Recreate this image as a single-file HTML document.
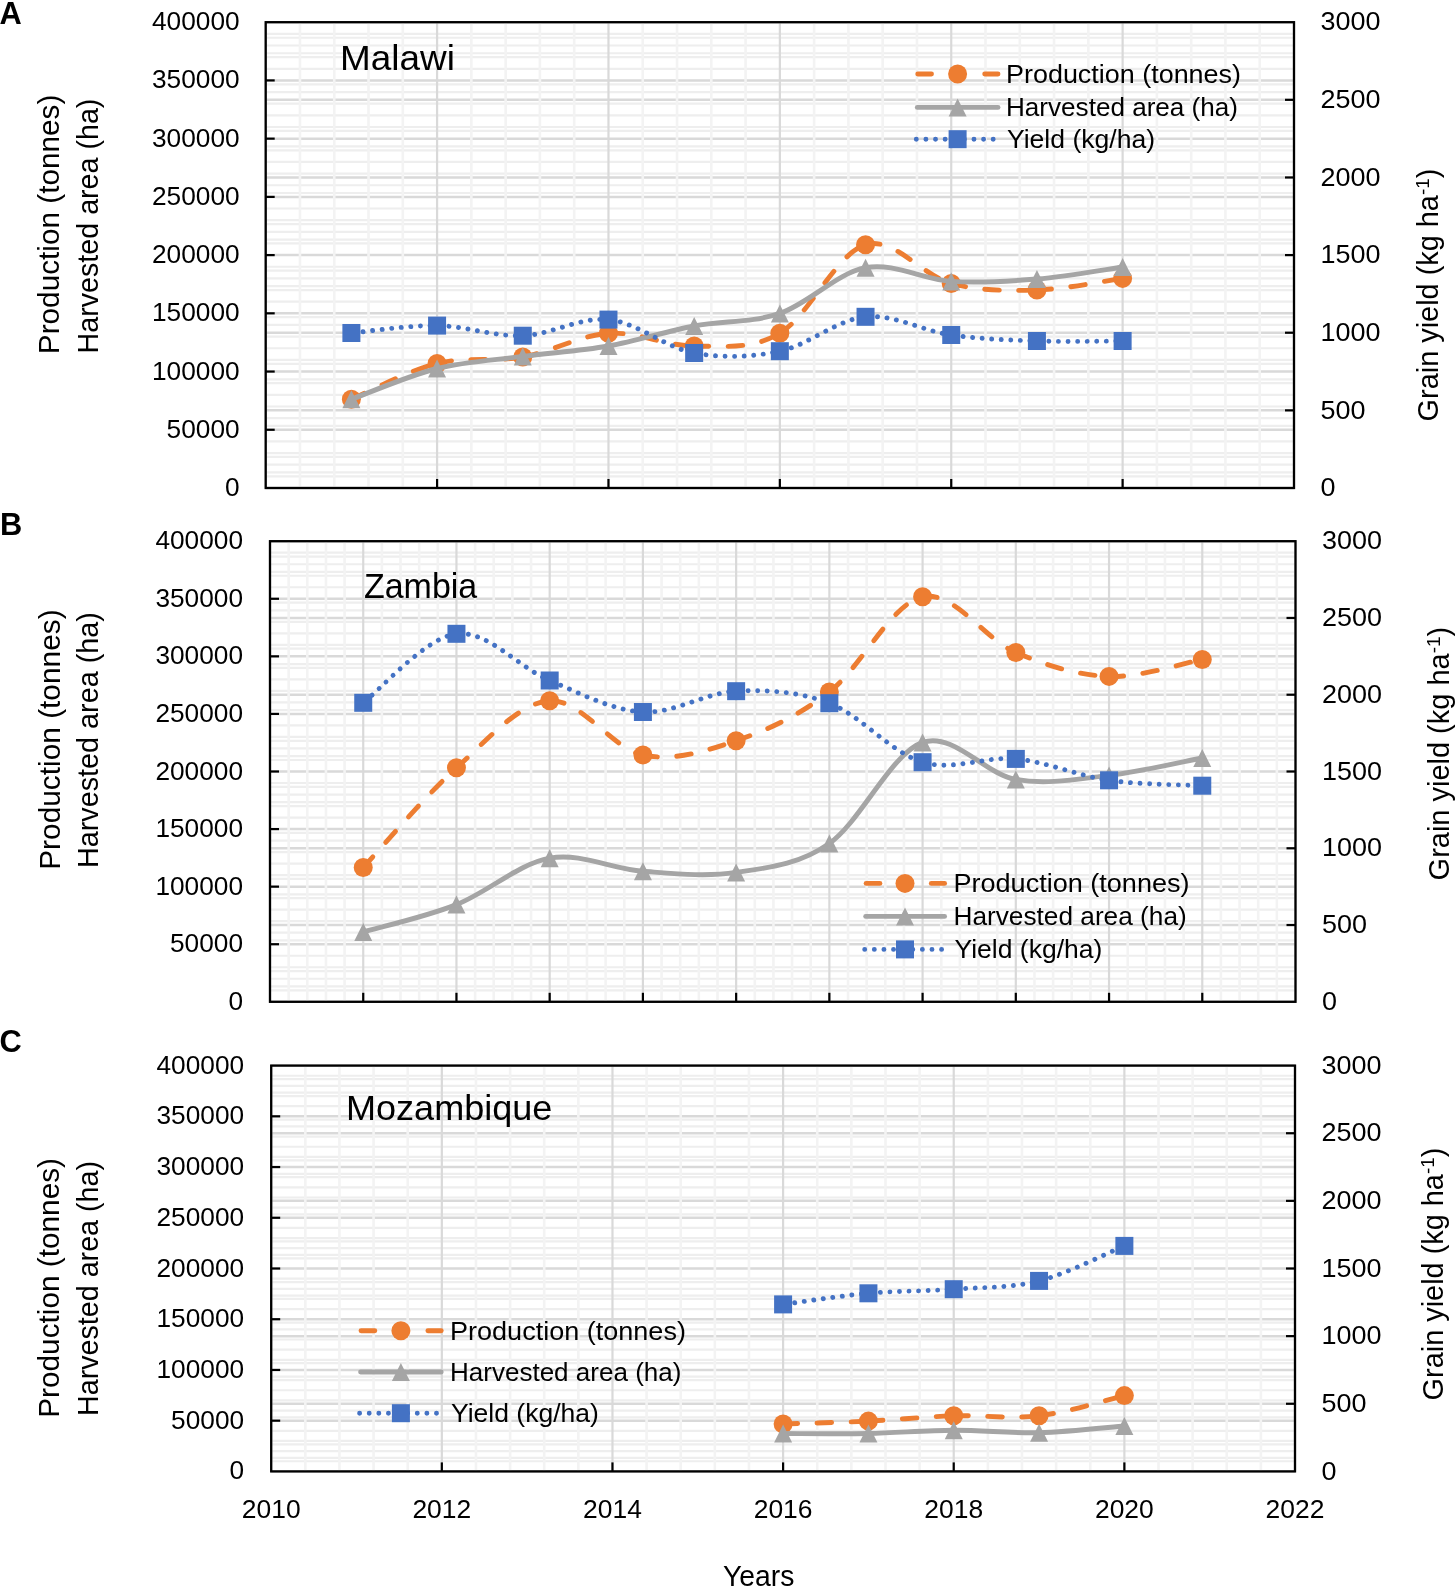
<!DOCTYPE html>
<html><head><meta charset="utf-8"><style>
html,body{margin:0;padding:0;background:#fff;}
svg{display:block;will-change:transform;}
text{font-family:'Liberation Sans', sans-serif;fill:#000;}
</style></head><body>
<svg width="1455" height="1587" viewBox="0 0 1455 1587">
<rect width="1455" height="1587" fill="#fff"/>
<line x1="265.7" y1="33.84" x2="1294" y2="33.84" stroke="#eeeeee" stroke-width="2.2"/>
<line x1="265.7" y1="37.73" x2="1294" y2="37.73" stroke="#eeeeee" stroke-width="2.2"/>
<line x1="265.7" y1="45.49" x2="1294" y2="45.49" stroke="#eeeeee" stroke-width="2.2"/>
<line x1="265.7" y1="53.25" x2="1294" y2="53.25" stroke="#eeeeee" stroke-width="2.2"/>
<line x1="265.7" y1="57.14" x2="1294" y2="57.14" stroke="#eeeeee" stroke-width="2.2"/>
<line x1="265.7" y1="68.78" x2="1294" y2="68.78" stroke="#eeeeee" stroke-width="2.2"/>
<line x1="265.7" y1="84.31" x2="1294" y2="84.31" stroke="#eeeeee" stroke-width="2.2"/>
<line x1="265.7" y1="92.07" x2="1294" y2="92.07" stroke="#eeeeee" stroke-width="2.2"/>
<line x1="265.7" y1="103.72" x2="1294" y2="103.72" stroke="#eeeeee" stroke-width="2.2"/>
<line x1="265.7" y1="115.36" x2="1294" y2="115.36" stroke="#eeeeee" stroke-width="2.2"/>
<line x1="265.7" y1="127" x2="1294" y2="127" stroke="#eeeeee" stroke-width="2.2"/>
<line x1="265.7" y1="130.89" x2="1294" y2="130.89" stroke="#eeeeee" stroke-width="2.2"/>
<line x1="265.7" y1="146.41" x2="1294" y2="146.41" stroke="#eeeeee" stroke-width="2.2"/>
<line x1="265.7" y1="150.29" x2="1294" y2="150.29" stroke="#eeeeee" stroke-width="2.2"/>
<line x1="265.7" y1="161.94" x2="1294" y2="161.94" stroke="#eeeeee" stroke-width="2.2"/>
<line x1="265.7" y1="173.59" x2="1294" y2="173.59" stroke="#eeeeee" stroke-width="2.2"/>
<line x1="265.7" y1="185.23" x2="1294" y2="185.23" stroke="#eeeeee" stroke-width="2.2"/>
<line x1="265.7" y1="192.99" x2="1294" y2="192.99" stroke="#eeeeee" stroke-width="2.2"/>
<line x1="265.7" y1="208.52" x2="1294" y2="208.52" stroke="#eeeeee" stroke-width="2.2"/>
<line x1="265.7" y1="220.16" x2="1294" y2="220.16" stroke="#eeeeee" stroke-width="2.2"/>
<line x1="265.7" y1="224.05" x2="1294" y2="224.05" stroke="#eeeeee" stroke-width="2.2"/>
<line x1="265.7" y1="231.81" x2="1294" y2="231.81" stroke="#eeeeee" stroke-width="2.2"/>
<line x1="265.7" y1="239.57" x2="1294" y2="239.57" stroke="#eeeeee" stroke-width="2.2"/>
<line x1="265.7" y1="243.46" x2="1294" y2="243.46" stroke="#eeeeee" stroke-width="2.2"/>
<line x1="265.7" y1="266.75" x2="1294" y2="266.75" stroke="#eeeeee" stroke-width="2.2"/>
<line x1="265.7" y1="270.63" x2="1294" y2="270.63" stroke="#eeeeee" stroke-width="2.2"/>
<line x1="265.7" y1="278.39" x2="1294" y2="278.39" stroke="#eeeeee" stroke-width="2.2"/>
<line x1="265.7" y1="286.15" x2="1294" y2="286.15" stroke="#eeeeee" stroke-width="2.2"/>
<line x1="265.7" y1="290.03" x2="1294" y2="290.03" stroke="#eeeeee" stroke-width="2.2"/>
<line x1="265.7" y1="301.68" x2="1294" y2="301.68" stroke="#eeeeee" stroke-width="2.2"/>
<line x1="265.7" y1="317.21" x2="1294" y2="317.21" stroke="#eeeeee" stroke-width="2.2"/>
<line x1="265.7" y1="324.97" x2="1294" y2="324.97" stroke="#eeeeee" stroke-width="2.2"/>
<line x1="265.7" y1="336.62" x2="1294" y2="336.62" stroke="#eeeeee" stroke-width="2.2"/>
<line x1="265.7" y1="348.26" x2="1294" y2="348.26" stroke="#eeeeee" stroke-width="2.2"/>
<line x1="265.7" y1="359.91" x2="1294" y2="359.91" stroke="#eeeeee" stroke-width="2.2"/>
<line x1="265.7" y1="363.79" x2="1294" y2="363.79" stroke="#eeeeee" stroke-width="2.2"/>
<line x1="265.7" y1="379.31" x2="1294" y2="379.31" stroke="#eeeeee" stroke-width="2.2"/>
<line x1="265.7" y1="383.19" x2="1294" y2="383.19" stroke="#eeeeee" stroke-width="2.2"/>
<line x1="265.7" y1="394.84" x2="1294" y2="394.84" stroke="#eeeeee" stroke-width="2.2"/>
<line x1="265.7" y1="406.48" x2="1294" y2="406.48" stroke="#eeeeee" stroke-width="2.2"/>
<line x1="265.7" y1="418.13" x2="1294" y2="418.13" stroke="#eeeeee" stroke-width="2.2"/>
<line x1="265.7" y1="425.89" x2="1294" y2="425.89" stroke="#eeeeee" stroke-width="2.2"/>
<line x1="265.7" y1="441.42" x2="1294" y2="441.42" stroke="#eeeeee" stroke-width="2.2"/>
<line x1="265.7" y1="453.07" x2="1294" y2="453.07" stroke="#eeeeee" stroke-width="2.2"/>
<line x1="265.7" y1="456.95" x2="1294" y2="456.95" stroke="#eeeeee" stroke-width="2.2"/>
<line x1="265.7" y1="464.71" x2="1294" y2="464.71" stroke="#eeeeee" stroke-width="2.2"/>
<line x1="265.7" y1="472.47" x2="1294" y2="472.47" stroke="#eeeeee" stroke-width="2.2"/>
<line x1="265.7" y1="476.36" x2="1294" y2="476.36" stroke="#eeeeee" stroke-width="2.2"/>
<line x1="265.7" y1="22.2" x2="1294" y2="22.2" stroke="#d9d9d9" stroke-width="2.5"/>
<line x1="265.7" y1="80.42" x2="1294" y2="80.42" stroke="#d9d9d9" stroke-width="2.5"/>
<line x1="265.7" y1="99.83" x2="1294" y2="99.83" stroke="#d9d9d9" stroke-width="2.5"/>
<line x1="265.7" y1="138.65" x2="1294" y2="138.65" stroke="#d9d9d9" stroke-width="2.5"/>
<line x1="265.7" y1="177.47" x2="1294" y2="177.47" stroke="#d9d9d9" stroke-width="2.5"/>
<line x1="265.7" y1="196.88" x2="1294" y2="196.88" stroke="#d9d9d9" stroke-width="2.5"/>
<line x1="265.7" y1="255.1" x2="1294" y2="255.1" stroke="#d9d9d9" stroke-width="2.5"/>
<line x1="265.7" y1="313.32" x2="1294" y2="313.32" stroke="#d9d9d9" stroke-width="2.5"/>
<line x1="265.7" y1="332.73" x2="1294" y2="332.73" stroke="#d9d9d9" stroke-width="2.5"/>
<line x1="265.7" y1="371.55" x2="1294" y2="371.55" stroke="#d9d9d9" stroke-width="2.5"/>
<line x1="265.7" y1="410.37" x2="1294" y2="410.37" stroke="#d9d9d9" stroke-width="2.5"/>
<line x1="265.7" y1="429.77" x2="1294" y2="429.77" stroke="#d9d9d9" stroke-width="2.5"/>
<line x1="265.7" y1="488" x2="1294" y2="488" stroke="#d9d9d9" stroke-width="2.5"/>
<line x1="299.98" y1="22.2" x2="299.98" y2="488" stroke="#f3f3f3" stroke-width="2.6"/>
<line x1="334.25" y1="22.2" x2="334.25" y2="488" stroke="#f3f3f3" stroke-width="2.6"/>
<line x1="368.53" y1="22.2" x2="368.53" y2="488" stroke="#f3f3f3" stroke-width="2.6"/>
<line x1="402.81" y1="22.2" x2="402.81" y2="488" stroke="#f3f3f3" stroke-width="2.6"/>
<line x1="471.36" y1="22.2" x2="471.36" y2="488" stroke="#f3f3f3" stroke-width="2.6"/>
<line x1="505.64" y1="22.2" x2="505.64" y2="488" stroke="#f3f3f3" stroke-width="2.6"/>
<line x1="539.91" y1="22.2" x2="539.91" y2="488" stroke="#f3f3f3" stroke-width="2.6"/>
<line x1="574.19" y1="22.2" x2="574.19" y2="488" stroke="#f3f3f3" stroke-width="2.6"/>
<line x1="642.74" y1="22.2" x2="642.74" y2="488" stroke="#f3f3f3" stroke-width="2.6"/>
<line x1="677.02" y1="22.2" x2="677.02" y2="488" stroke="#f3f3f3" stroke-width="2.6"/>
<line x1="711.3" y1="22.2" x2="711.3" y2="488" stroke="#f3f3f3" stroke-width="2.6"/>
<line x1="745.57" y1="22.2" x2="745.57" y2="488" stroke="#f3f3f3" stroke-width="2.6"/>
<line x1="814.13" y1="22.2" x2="814.13" y2="488" stroke="#f3f3f3" stroke-width="2.6"/>
<line x1="848.4" y1="22.2" x2="848.4" y2="488" stroke="#f3f3f3" stroke-width="2.6"/>
<line x1="882.68" y1="22.2" x2="882.68" y2="488" stroke="#f3f3f3" stroke-width="2.6"/>
<line x1="916.96" y1="22.2" x2="916.96" y2="488" stroke="#f3f3f3" stroke-width="2.6"/>
<line x1="985.51" y1="22.2" x2="985.51" y2="488" stroke="#f3f3f3" stroke-width="2.6"/>
<line x1="1019.79" y1="22.2" x2="1019.79" y2="488" stroke="#f3f3f3" stroke-width="2.6"/>
<line x1="1054.06" y1="22.2" x2="1054.06" y2="488" stroke="#f3f3f3" stroke-width="2.6"/>
<line x1="1088.34" y1="22.2" x2="1088.34" y2="488" stroke="#f3f3f3" stroke-width="2.6"/>
<line x1="1156.89" y1="22.2" x2="1156.89" y2="488" stroke="#f3f3f3" stroke-width="2.6"/>
<line x1="1191.17" y1="22.2" x2="1191.17" y2="488" stroke="#f3f3f3" stroke-width="2.6"/>
<line x1="1225.45" y1="22.2" x2="1225.45" y2="488" stroke="#f3f3f3" stroke-width="2.6"/>
<line x1="1259.72" y1="22.2" x2="1259.72" y2="488" stroke="#f3f3f3" stroke-width="2.6"/>
<line x1="265.7" y1="22.2" x2="265.7" y2="488" stroke="#d9d9d9" stroke-width="2.2"/>
<line x1="437.08" y1="22.2" x2="437.08" y2="488" stroke="#d9d9d9" stroke-width="2.2"/>
<line x1="608.47" y1="22.2" x2="608.47" y2="488" stroke="#d9d9d9" stroke-width="2.2"/>
<line x1="779.85" y1="22.2" x2="779.85" y2="488" stroke="#d9d9d9" stroke-width="2.2"/>
<line x1="951.23" y1="22.2" x2="951.23" y2="488" stroke="#d9d9d9" stroke-width="2.2"/>
<line x1="1122.62" y1="22.2" x2="1122.62" y2="488" stroke="#d9d9d9" stroke-width="2.2"/>
<line x1="1294" y1="22.2" x2="1294" y2="488" stroke="#d9d9d9" stroke-width="2.2"/>
<line x1="265.7" y1="80.42" x2="274.7" y2="80.42" stroke="#000" stroke-width="2.2"/>
<line x1="265.7" y1="138.65" x2="274.7" y2="138.65" stroke="#000" stroke-width="2.2"/>
<line x1="265.7" y1="196.88" x2="274.7" y2="196.88" stroke="#000" stroke-width="2.2"/>
<line x1="265.7" y1="255.1" x2="274.7" y2="255.1" stroke="#000" stroke-width="2.2"/>
<line x1="265.7" y1="313.32" x2="274.7" y2="313.32" stroke="#000" stroke-width="2.2"/>
<line x1="265.7" y1="371.55" x2="274.7" y2="371.55" stroke="#000" stroke-width="2.2"/>
<line x1="265.7" y1="429.77" x2="274.7" y2="429.77" stroke="#000" stroke-width="2.2"/>
<line x1="1285" y1="99.83" x2="1294" y2="99.83" stroke="#000" stroke-width="2.2"/>
<line x1="1285" y1="177.47" x2="1294" y2="177.47" stroke="#000" stroke-width="2.2"/>
<line x1="1285" y1="255.1" x2="1294" y2="255.1" stroke="#000" stroke-width="2.2"/>
<line x1="1285" y1="332.73" x2="1294" y2="332.73" stroke="#000" stroke-width="2.2"/>
<line x1="1285" y1="410.37" x2="1294" y2="410.37" stroke="#000" stroke-width="2.2"/>
<line x1="437.08" y1="479" x2="437.08" y2="488" stroke="#000" stroke-width="2.2"/>
<line x1="608.47" y1="479" x2="608.47" y2="488" stroke="#000" stroke-width="2.2"/>
<line x1="779.85" y1="479" x2="779.85" y2="488" stroke="#000" stroke-width="2.2"/>
<line x1="951.23" y1="479" x2="951.23" y2="488" stroke="#000" stroke-width="2.2"/>
<line x1="1122.62" y1="479" x2="1122.62" y2="488" stroke="#000" stroke-width="2.2"/>
<rect x="265.7" y="22.2" width="1028.3" height="465.8" fill="none" stroke="#000" stroke-width="2.3"/>
<path d="M351.39,399.3 C365.67,393.33 408.52,370.55 437.08,363.5" fill="none" stroke="#ED7D31" stroke-width="4.9" stroke-dasharray="14.6 19.4" stroke-linecap="round"/>
<path d="M437.08,363.5 C465.65,356.45 494.21,362.03 522.77,357" fill="none" stroke="#ED7D31" stroke-width="4.9" stroke-dasharray="14.6 19.4" stroke-linecap="round"/>
<path d="M522.77,357 C551.34,351.97 579.9,335.13 608.47,333.3" fill="none" stroke="#ED7D31" stroke-width="4.9" stroke-dasharray="14.6 19.4" stroke-linecap="round"/>
<path d="M608.47,333.3 C637.03,331.47 665.59,346 694.16,346" fill="none" stroke="#ED7D31" stroke-width="4.9" stroke-dasharray="14.6 19.4" stroke-linecap="round"/>
<path d="M694.16,346 C722.72,346 751.29,350.18 779.85,333.3" fill="none" stroke="#ED7D31" stroke-width="4.9" stroke-dasharray="14.6 19.4" stroke-linecap="round"/>
<path d="M779.85,333.3 C808.41,316.42 836.98,253 865.54,244.7" fill="none" stroke="#ED7D31" stroke-width="4.9" stroke-dasharray="14.6 19.4" stroke-linecap="round"/>
<path d="M865.54,244.7 C894.11,236.4 922.67,275.95 951.23,283.5" fill="none" stroke="#ED7D31" stroke-width="4.9" stroke-dasharray="14.6 19.4" stroke-linecap="round"/>
<path d="M951.23,283.5 C979.8,291.05 1008.36,290.85 1036.92,290" fill="none" stroke="#ED7D31" stroke-width="4.9" stroke-dasharray="14.6 19.4" stroke-linecap="round"/>
<path d="M1036.92,290 C1065.49,289.15 1108.33,280.33 1122.62,278.4" fill="none" stroke="#ED7D31" stroke-width="4.9" stroke-dasharray="14.6 19.4" stroke-linecap="round"/>
<circle cx="351.39" cy="399.3" r="9.5" fill="#ED7D31"/>
<circle cx="437.08" cy="363.5" r="9.5" fill="#ED7D31"/>
<circle cx="522.77" cy="357" r="9.5" fill="#ED7D31"/>
<circle cx="608.47" cy="333.3" r="9.5" fill="#ED7D31"/>
<circle cx="694.16" cy="346" r="9.5" fill="#ED7D31"/>
<circle cx="779.85" cy="333.3" r="9.5" fill="#ED7D31"/>
<circle cx="865.54" cy="244.7" r="9.5" fill="#ED7D31"/>
<circle cx="951.23" cy="283.5" r="9.5" fill="#ED7D31"/>
<circle cx="1036.92" cy="290" r="9.5" fill="#ED7D31"/>
<circle cx="1122.62" cy="278.4" r="9.5" fill="#ED7D31"/>
<path d="M351.39,399.3 C365.67,394.17 408.52,375.65 437.08,368.5 C465.65,361.35 494.21,360.15 522.77,356.4 C551.34,352.65 579.9,351.07 608.47,346 C637.03,340.93 665.59,331.43 694.16,326 C722.72,320.57 751.29,323.12 779.85,313.4 C808.41,303.68 836.98,273.03 865.54,267.7 C894.11,262.37 922.67,279.52 951.23,281.4 C979.8,283.28 1008.36,281.4 1036.92,279 C1065.49,276.6 1108.33,269 1122.62,267" fill="none" stroke="#A5A5A5" stroke-width="4.9" stroke-linecap="round"/>
<path d="M351.39,390.3 L360.39,408.3 L342.39,408.3 Z" fill="#A5A5A5"/>
<path d="M437.08,359.5 L446.08,377.5 L428.08,377.5 Z" fill="#A5A5A5"/>
<path d="M522.77,347.4 L531.77,365.4 L513.77,365.4 Z" fill="#A5A5A5"/>
<path d="M608.47,337 L617.47,355 L599.47,355 Z" fill="#A5A5A5"/>
<path d="M694.16,317 L703.16,335 L685.16,335 Z" fill="#A5A5A5"/>
<path d="M779.85,304.4 L788.85,322.4 L770.85,322.4 Z" fill="#A5A5A5"/>
<path d="M865.54,258.7 L874.54,276.7 L856.54,276.7 Z" fill="#A5A5A5"/>
<path d="M951.23,272.4 L960.23,290.4 L942.23,290.4 Z" fill="#A5A5A5"/>
<path d="M1036.92,270 L1045.92,288 L1027.92,288 Z" fill="#A5A5A5"/>
<path d="M1122.62,258 L1131.62,276 L1113.62,276 Z" fill="#A5A5A5"/>
<path d="M351.39,333 C365.67,331.77 408.52,325.15 437.08,325.6" fill="none" stroke="#4472C4" stroke-width="4.9" stroke-dasharray="0.01 9.55" stroke-dashoffset="7.15" stroke-linecap="round"/>
<path d="M437.08,325.6 C465.65,326.05 494.21,336.7 522.77,335.7" fill="none" stroke="#4472C4" stroke-width="4.9" stroke-dasharray="0.01 9.55" stroke-dashoffset="7.15" stroke-linecap="round"/>
<path d="M522.77,335.7 C551.34,334.7 579.9,316.72 608.47,319.6" fill="none" stroke="#4472C4" stroke-width="4.9" stroke-dasharray="0.01 9.55" stroke-dashoffset="7.15" stroke-linecap="round"/>
<path d="M608.47,319.6 C637.03,322.48 665.59,347.73 694.16,353" fill="none" stroke="#4472C4" stroke-width="4.9" stroke-dasharray="0.01 9.55" stroke-dashoffset="7.15" stroke-linecap="round"/>
<path d="M694.16,353 C722.72,358.27 751.29,357.23 779.85,351.2" fill="none" stroke="#4472C4" stroke-width="4.9" stroke-dasharray="0.01 9.55" stroke-dashoffset="7.15" stroke-linecap="round"/>
<path d="M779.85,351.2 C808.41,345.17 836.98,319.5 865.54,316.8" fill="none" stroke="#4472C4" stroke-width="4.9" stroke-dasharray="0.01 9.55" stroke-dashoffset="7.15" stroke-linecap="round"/>
<path d="M865.54,316.8 C894.11,314.1 922.67,330.97 951.23,335" fill="none" stroke="#4472C4" stroke-width="4.9" stroke-dasharray="0.01 9.55" stroke-dashoffset="7.15" stroke-linecap="round"/>
<path d="M951.23,335 C979.8,339.03 1008.36,340 1036.92,341" fill="none" stroke="#4472C4" stroke-width="4.9" stroke-dasharray="0.01 9.55" stroke-dashoffset="7.15" stroke-linecap="round"/>
<path d="M1036.92,341 C1065.49,342 1108.33,341 1122.62,341" fill="none" stroke="#4472C4" stroke-width="4.9" stroke-dasharray="0.01 9.55" stroke-dashoffset="7.15" stroke-linecap="round"/>
<rect x="342.39" y="324" width="18" height="18" fill="#4472C4"/>
<rect x="428.08" y="316.6" width="18" height="18" fill="#4472C4"/>
<rect x="513.77" y="326.7" width="18" height="18" fill="#4472C4"/>
<rect x="599.47" y="310.6" width="18" height="18" fill="#4472C4"/>
<rect x="685.16" y="344" width="18" height="18" fill="#4472C4"/>
<rect x="770.85" y="342.2" width="18" height="18" fill="#4472C4"/>
<rect x="856.54" y="307.8" width="18" height="18" fill="#4472C4"/>
<rect x="942.23" y="326" width="18" height="18" fill="#4472C4"/>
<rect x="1027.92" y="332" width="18" height="18" fill="#4472C4"/>
<rect x="1113.62" y="332" width="18" height="18" fill="#4472C4"/>
<text x="239.6" y="30.2" font-size="26.2" text-anchor="end" font-weight="normal" textLength="87.6" lengthAdjust="spacingAndGlyphs">400000</text>
<text x="239.6" y="88.42" font-size="26.2" text-anchor="end" font-weight="normal" textLength="87.6" lengthAdjust="spacingAndGlyphs">350000</text>
<text x="239.6" y="146.65" font-size="26.2" text-anchor="end" font-weight="normal" textLength="87.6" lengthAdjust="spacingAndGlyphs">300000</text>
<text x="239.6" y="204.88" font-size="26.2" text-anchor="end" font-weight="normal" textLength="87.6" lengthAdjust="spacingAndGlyphs">250000</text>
<text x="239.6" y="263.1" font-size="26.2" text-anchor="end" font-weight="normal" textLength="87.6" lengthAdjust="spacingAndGlyphs">200000</text>
<text x="239.6" y="321.32" font-size="26.2" text-anchor="end" font-weight="normal" textLength="87.6" lengthAdjust="spacingAndGlyphs">150000</text>
<text x="239.6" y="379.55" font-size="26.2" text-anchor="end" font-weight="normal" textLength="87.6" lengthAdjust="spacingAndGlyphs">100000</text>
<text x="239.6" y="437.77" font-size="26.2" text-anchor="end" font-weight="normal" textLength="73" lengthAdjust="spacingAndGlyphs">50000</text>
<text x="239.6" y="496" font-size="26.2" text-anchor="end" font-weight="normal" textLength="14.6" lengthAdjust="spacingAndGlyphs">0</text>
<text x="1320.4" y="30.4" font-size="26.2" text-anchor="start" font-weight="normal" textLength="60" lengthAdjust="spacingAndGlyphs">3000</text>
<text x="1320.4" y="108.03" font-size="26.2" text-anchor="start" font-weight="normal" textLength="60" lengthAdjust="spacingAndGlyphs">2500</text>
<text x="1320.4" y="185.67" font-size="26.2" text-anchor="start" font-weight="normal" textLength="60" lengthAdjust="spacingAndGlyphs">2000</text>
<text x="1320.4" y="263.3" font-size="26.2" text-anchor="start" font-weight="normal" textLength="60" lengthAdjust="spacingAndGlyphs">1500</text>
<text x="1320.4" y="340.93" font-size="26.2" text-anchor="start" font-weight="normal" textLength="60" lengthAdjust="spacingAndGlyphs">1000</text>
<text x="1320.4" y="418.57" font-size="26.2" text-anchor="start" font-weight="normal" textLength="45" lengthAdjust="spacingAndGlyphs">500</text>
<text x="1320.4" y="496.2" font-size="26.2" text-anchor="start" font-weight="normal" textLength="15" lengthAdjust="spacingAndGlyphs">0</text>
<text x="340.1" y="69.6" font-size="35.2" text-anchor="start" font-weight="normal" textLength="114.8" lengthAdjust="spacingAndGlyphs">Malawi</text>
<line x1="917.75" y1="74" x2="931.5" y2="74" stroke="#ED7D31" stroke-width="4.9" stroke-linecap="round"/>
<line x1="984.7" y1="74" x2="998" y2="74" stroke="#ED7D31" stroke-width="4.9" stroke-linecap="round"/>
<circle cx="957.6" cy="74" r="9.5" fill="#ED7D31"/>
<text x="1006" y="82.9" font-size="25.9" text-anchor="start" font-weight="normal" textLength="235" lengthAdjust="spacingAndGlyphs">Production (tonnes)</text>
<line x1="917.3" y1="107.4" x2="998" y2="107.4" stroke="#A5A5A5" stroke-width="4.9" stroke-linecap="round"/>
<path d="M957.6,98.4 L966.6,116.4 L948.6,116.4 Z" fill="#A5A5A5"/>
<text x="1006" y="116.3" font-size="25.9" text-anchor="start" font-weight="normal" textLength="232" lengthAdjust="spacingAndGlyphs">Harvested area (ha)</text>
<line x1="916.3" y1="139.2" x2="998" y2="139.2" stroke="#4472C4" stroke-width="4.9" stroke-linecap="round" stroke-dasharray="0.01 9.6"/>
<rect x="948.6" y="130.2" width="18" height="18" fill="#4472C4"/>
<text x="1007" y="148.1" font-size="25.9" text-anchor="start" font-weight="normal" textLength="148" lengthAdjust="spacingAndGlyphs">Yield (kg/ha)</text>
<text transform="translate(59.1,354.2) rotate(-90)" x="0" y="0" font-size="29" textLength="259.6" lengthAdjust="spacingAndGlyphs">Production (tonnes)</text>
<text transform="translate(98.2,353.4) rotate(-90)" x="0" y="0" font-size="29" textLength="254.8" lengthAdjust="spacingAndGlyphs">Harvested area (ha)</text>
<text transform="translate(1437.9,421.4) rotate(-90)" x="0" y="0" font-size="29" textLength="252.8" lengthAdjust="spacingAndGlyphs">Grain yield (kg ha<tspan dy="-9" font-size="19">-1</tspan><tspan dy="9">)</tspan></text>
<text x="-0.5" y="23.9" font-size="30.8" text-anchor="start" font-weight="bold">A</text>
<line x1="270" y1="552.72" x2="1295.5" y2="552.72" stroke="#eeeeee" stroke-width="2.2"/>
<line x1="270" y1="556.55" x2="1295.5" y2="556.55" stroke="#eeeeee" stroke-width="2.2"/>
<line x1="270" y1="564.23" x2="1295.5" y2="564.23" stroke="#eeeeee" stroke-width="2.2"/>
<line x1="270" y1="571.91" x2="1295.5" y2="571.91" stroke="#eeeeee" stroke-width="2.2"/>
<line x1="270" y1="575.75" x2="1295.5" y2="575.75" stroke="#eeeeee" stroke-width="2.2"/>
<line x1="270" y1="587.26" x2="1295.5" y2="587.26" stroke="#eeeeee" stroke-width="2.2"/>
<line x1="270" y1="602.61" x2="1295.5" y2="602.61" stroke="#eeeeee" stroke-width="2.2"/>
<line x1="270" y1="610.29" x2="1295.5" y2="610.29" stroke="#eeeeee" stroke-width="2.2"/>
<line x1="270" y1="621.81" x2="1295.5" y2="621.81" stroke="#eeeeee" stroke-width="2.2"/>
<line x1="270" y1="633.32" x2="1295.5" y2="633.32" stroke="#eeeeee" stroke-width="2.2"/>
<line x1="270" y1="644.84" x2="1295.5" y2="644.84" stroke="#eeeeee" stroke-width="2.2"/>
<line x1="270" y1="648.67" x2="1295.5" y2="648.67" stroke="#eeeeee" stroke-width="2.2"/>
<line x1="270" y1="664.03" x2="1295.5" y2="664.03" stroke="#eeeeee" stroke-width="2.2"/>
<line x1="270" y1="667.87" x2="1295.5" y2="667.87" stroke="#eeeeee" stroke-width="2.2"/>
<line x1="270" y1="679.38" x2="1295.5" y2="679.38" stroke="#eeeeee" stroke-width="2.2"/>
<line x1="270" y1="690.89" x2="1295.5" y2="690.89" stroke="#eeeeee" stroke-width="2.2"/>
<line x1="270" y1="702.41" x2="1295.5" y2="702.41" stroke="#eeeeee" stroke-width="2.2"/>
<line x1="270" y1="710.09" x2="1295.5" y2="710.09" stroke="#eeeeee" stroke-width="2.2"/>
<line x1="270" y1="725.44" x2="1295.5" y2="725.44" stroke="#eeeeee" stroke-width="2.2"/>
<line x1="270" y1="736.96" x2="1295.5" y2="736.96" stroke="#eeeeee" stroke-width="2.2"/>
<line x1="270" y1="740.79" x2="1295.5" y2="740.79" stroke="#eeeeee" stroke-width="2.2"/>
<line x1="270" y1="748.47" x2="1295.5" y2="748.47" stroke="#eeeeee" stroke-width="2.2"/>
<line x1="270" y1="756.15" x2="1295.5" y2="756.15" stroke="#eeeeee" stroke-width="2.2"/>
<line x1="270" y1="759.99" x2="1295.5" y2="759.99" stroke="#eeeeee" stroke-width="2.2"/>
<line x1="270" y1="783.01" x2="1295.5" y2="783.01" stroke="#eeeeee" stroke-width="2.2"/>
<line x1="270" y1="786.85" x2="1295.5" y2="786.85" stroke="#eeeeee" stroke-width="2.2"/>
<line x1="270" y1="794.53" x2="1295.5" y2="794.53" stroke="#eeeeee" stroke-width="2.2"/>
<line x1="270" y1="802.21" x2="1295.5" y2="802.21" stroke="#eeeeee" stroke-width="2.2"/>
<line x1="270" y1="806.04" x2="1295.5" y2="806.04" stroke="#eeeeee" stroke-width="2.2"/>
<line x1="270" y1="817.56" x2="1295.5" y2="817.56" stroke="#eeeeee" stroke-width="2.2"/>
<line x1="270" y1="832.91" x2="1295.5" y2="832.91" stroke="#eeeeee" stroke-width="2.2"/>
<line x1="270" y1="840.59" x2="1295.5" y2="840.59" stroke="#eeeeee" stroke-width="2.2"/>
<line x1="270" y1="852.11" x2="1295.5" y2="852.11" stroke="#eeeeee" stroke-width="2.2"/>
<line x1="270" y1="863.62" x2="1295.5" y2="863.62" stroke="#eeeeee" stroke-width="2.2"/>
<line x1="270" y1="875.13" x2="1295.5" y2="875.13" stroke="#eeeeee" stroke-width="2.2"/>
<line x1="270" y1="878.97" x2="1295.5" y2="878.97" stroke="#eeeeee" stroke-width="2.2"/>
<line x1="270" y1="894.33" x2="1295.5" y2="894.33" stroke="#eeeeee" stroke-width="2.2"/>
<line x1="270" y1="898.16" x2="1295.5" y2="898.16" stroke="#eeeeee" stroke-width="2.2"/>
<line x1="270" y1="909.68" x2="1295.5" y2="909.68" stroke="#eeeeee" stroke-width="2.2"/>
<line x1="270" y1="921.19" x2="1295.5" y2="921.19" stroke="#eeeeee" stroke-width="2.2"/>
<line x1="270" y1="932.71" x2="1295.5" y2="932.71" stroke="#eeeeee" stroke-width="2.2"/>
<line x1="270" y1="940.39" x2="1295.5" y2="940.39" stroke="#eeeeee" stroke-width="2.2"/>
<line x1="270" y1="955.74" x2="1295.5" y2="955.74" stroke="#eeeeee" stroke-width="2.2"/>
<line x1="270" y1="967.25" x2="1295.5" y2="967.25" stroke="#eeeeee" stroke-width="2.2"/>
<line x1="270" y1="971.09" x2="1295.5" y2="971.09" stroke="#eeeeee" stroke-width="2.2"/>
<line x1="270" y1="978.77" x2="1295.5" y2="978.77" stroke="#eeeeee" stroke-width="2.2"/>
<line x1="270" y1="986.45" x2="1295.5" y2="986.45" stroke="#eeeeee" stroke-width="2.2"/>
<line x1="270" y1="990.28" x2="1295.5" y2="990.28" stroke="#eeeeee" stroke-width="2.2"/>
<line x1="270" y1="541.2" x2="1295.5" y2="541.2" stroke="#d9d9d9" stroke-width="2.5"/>
<line x1="270" y1="598.78" x2="1295.5" y2="598.78" stroke="#d9d9d9" stroke-width="2.5"/>
<line x1="270" y1="617.97" x2="1295.5" y2="617.97" stroke="#d9d9d9" stroke-width="2.5"/>
<line x1="270" y1="656.35" x2="1295.5" y2="656.35" stroke="#d9d9d9" stroke-width="2.5"/>
<line x1="270" y1="694.73" x2="1295.5" y2="694.73" stroke="#d9d9d9" stroke-width="2.5"/>
<line x1="270" y1="713.92" x2="1295.5" y2="713.92" stroke="#d9d9d9" stroke-width="2.5"/>
<line x1="270" y1="771.5" x2="1295.5" y2="771.5" stroke="#d9d9d9" stroke-width="2.5"/>
<line x1="270" y1="829.08" x2="1295.5" y2="829.08" stroke="#d9d9d9" stroke-width="2.5"/>
<line x1="270" y1="848.27" x2="1295.5" y2="848.27" stroke="#d9d9d9" stroke-width="2.5"/>
<line x1="270" y1="886.65" x2="1295.5" y2="886.65" stroke="#d9d9d9" stroke-width="2.5"/>
<line x1="270" y1="925.03" x2="1295.5" y2="925.03" stroke="#d9d9d9" stroke-width="2.5"/>
<line x1="270" y1="944.22" x2="1295.5" y2="944.22" stroke="#d9d9d9" stroke-width="2.5"/>
<line x1="270" y1="1001.8" x2="1295.5" y2="1001.8" stroke="#d9d9d9" stroke-width="2.5"/>
<line x1="288.65" y1="541.2" x2="288.65" y2="1001.8" stroke="#f3f3f3" stroke-width="2.6"/>
<line x1="307.29" y1="541.2" x2="307.29" y2="1001.8" stroke="#f3f3f3" stroke-width="2.6"/>
<line x1="325.94" y1="541.2" x2="325.94" y2="1001.8" stroke="#f3f3f3" stroke-width="2.6"/>
<line x1="344.58" y1="541.2" x2="344.58" y2="1001.8" stroke="#f3f3f3" stroke-width="2.6"/>
<line x1="381.87" y1="541.2" x2="381.87" y2="1001.8" stroke="#f3f3f3" stroke-width="2.6"/>
<line x1="400.52" y1="541.2" x2="400.52" y2="1001.8" stroke="#f3f3f3" stroke-width="2.6"/>
<line x1="419.16" y1="541.2" x2="419.16" y2="1001.8" stroke="#f3f3f3" stroke-width="2.6"/>
<line x1="437.81" y1="541.2" x2="437.81" y2="1001.8" stroke="#f3f3f3" stroke-width="2.6"/>
<line x1="475.1" y1="541.2" x2="475.1" y2="1001.8" stroke="#f3f3f3" stroke-width="2.6"/>
<line x1="493.75" y1="541.2" x2="493.75" y2="1001.8" stroke="#f3f3f3" stroke-width="2.6"/>
<line x1="512.39" y1="541.2" x2="512.39" y2="1001.8" stroke="#f3f3f3" stroke-width="2.6"/>
<line x1="531.04" y1="541.2" x2="531.04" y2="1001.8" stroke="#f3f3f3" stroke-width="2.6"/>
<line x1="568.33" y1="541.2" x2="568.33" y2="1001.8" stroke="#f3f3f3" stroke-width="2.6"/>
<line x1="586.97" y1="541.2" x2="586.97" y2="1001.8" stroke="#f3f3f3" stroke-width="2.6"/>
<line x1="605.62" y1="541.2" x2="605.62" y2="1001.8" stroke="#f3f3f3" stroke-width="2.6"/>
<line x1="624.26" y1="541.2" x2="624.26" y2="1001.8" stroke="#f3f3f3" stroke-width="2.6"/>
<line x1="661.55" y1="541.2" x2="661.55" y2="1001.8" stroke="#f3f3f3" stroke-width="2.6"/>
<line x1="680.2" y1="541.2" x2="680.2" y2="1001.8" stroke="#f3f3f3" stroke-width="2.6"/>
<line x1="698.85" y1="541.2" x2="698.85" y2="1001.8" stroke="#f3f3f3" stroke-width="2.6"/>
<line x1="717.49" y1="541.2" x2="717.49" y2="1001.8" stroke="#f3f3f3" stroke-width="2.6"/>
<line x1="754.78" y1="541.2" x2="754.78" y2="1001.8" stroke="#f3f3f3" stroke-width="2.6"/>
<line x1="773.43" y1="541.2" x2="773.43" y2="1001.8" stroke="#f3f3f3" stroke-width="2.6"/>
<line x1="792.07" y1="541.2" x2="792.07" y2="1001.8" stroke="#f3f3f3" stroke-width="2.6"/>
<line x1="810.72" y1="541.2" x2="810.72" y2="1001.8" stroke="#f3f3f3" stroke-width="2.6"/>
<line x1="848.01" y1="541.2" x2="848.01" y2="1001.8" stroke="#f3f3f3" stroke-width="2.6"/>
<line x1="866.65" y1="541.2" x2="866.65" y2="1001.8" stroke="#f3f3f3" stroke-width="2.6"/>
<line x1="885.3" y1="541.2" x2="885.3" y2="1001.8" stroke="#f3f3f3" stroke-width="2.6"/>
<line x1="903.95" y1="541.2" x2="903.95" y2="1001.8" stroke="#f3f3f3" stroke-width="2.6"/>
<line x1="941.24" y1="541.2" x2="941.24" y2="1001.8" stroke="#f3f3f3" stroke-width="2.6"/>
<line x1="959.88" y1="541.2" x2="959.88" y2="1001.8" stroke="#f3f3f3" stroke-width="2.6"/>
<line x1="978.53" y1="541.2" x2="978.53" y2="1001.8" stroke="#f3f3f3" stroke-width="2.6"/>
<line x1="997.17" y1="541.2" x2="997.17" y2="1001.8" stroke="#f3f3f3" stroke-width="2.6"/>
<line x1="1034.46" y1="541.2" x2="1034.46" y2="1001.8" stroke="#f3f3f3" stroke-width="2.6"/>
<line x1="1053.11" y1="541.2" x2="1053.11" y2="1001.8" stroke="#f3f3f3" stroke-width="2.6"/>
<line x1="1071.75" y1="541.2" x2="1071.75" y2="1001.8" stroke="#f3f3f3" stroke-width="2.6"/>
<line x1="1090.4" y1="541.2" x2="1090.4" y2="1001.8" stroke="#f3f3f3" stroke-width="2.6"/>
<line x1="1127.69" y1="541.2" x2="1127.69" y2="1001.8" stroke="#f3f3f3" stroke-width="2.6"/>
<line x1="1146.34" y1="541.2" x2="1146.34" y2="1001.8" stroke="#f3f3f3" stroke-width="2.6"/>
<line x1="1164.98" y1="541.2" x2="1164.98" y2="1001.8" stroke="#f3f3f3" stroke-width="2.6"/>
<line x1="1183.63" y1="541.2" x2="1183.63" y2="1001.8" stroke="#f3f3f3" stroke-width="2.6"/>
<line x1="1220.92" y1="541.2" x2="1220.92" y2="1001.8" stroke="#f3f3f3" stroke-width="2.6"/>
<line x1="1239.56" y1="541.2" x2="1239.56" y2="1001.8" stroke="#f3f3f3" stroke-width="2.6"/>
<line x1="1258.21" y1="541.2" x2="1258.21" y2="1001.8" stroke="#f3f3f3" stroke-width="2.6"/>
<line x1="1276.85" y1="541.2" x2="1276.85" y2="1001.8" stroke="#f3f3f3" stroke-width="2.6"/>
<line x1="270" y1="541.2" x2="270" y2="1001.8" stroke="#d9d9d9" stroke-width="2.2"/>
<line x1="363.23" y1="541.2" x2="363.23" y2="1001.8" stroke="#d9d9d9" stroke-width="2.2"/>
<line x1="456.45" y1="541.2" x2="456.45" y2="1001.8" stroke="#d9d9d9" stroke-width="2.2"/>
<line x1="549.68" y1="541.2" x2="549.68" y2="1001.8" stroke="#d9d9d9" stroke-width="2.2"/>
<line x1="642.91" y1="541.2" x2="642.91" y2="1001.8" stroke="#d9d9d9" stroke-width="2.2"/>
<line x1="736.14" y1="541.2" x2="736.14" y2="1001.8" stroke="#d9d9d9" stroke-width="2.2"/>
<line x1="829.36" y1="541.2" x2="829.36" y2="1001.8" stroke="#d9d9d9" stroke-width="2.2"/>
<line x1="922.59" y1="541.2" x2="922.59" y2="1001.8" stroke="#d9d9d9" stroke-width="2.2"/>
<line x1="1015.82" y1="541.2" x2="1015.82" y2="1001.8" stroke="#d9d9d9" stroke-width="2.2"/>
<line x1="1109.05" y1="541.2" x2="1109.05" y2="1001.8" stroke="#d9d9d9" stroke-width="2.2"/>
<line x1="1202.27" y1="541.2" x2="1202.27" y2="1001.8" stroke="#d9d9d9" stroke-width="2.2"/>
<line x1="1295.5" y1="541.2" x2="1295.5" y2="1001.8" stroke="#d9d9d9" stroke-width="2.2"/>
<line x1="270" y1="598.78" x2="279" y2="598.78" stroke="#000" stroke-width="2.2"/>
<line x1="270" y1="656.35" x2="279" y2="656.35" stroke="#000" stroke-width="2.2"/>
<line x1="270" y1="713.92" x2="279" y2="713.92" stroke="#000" stroke-width="2.2"/>
<line x1="270" y1="771.5" x2="279" y2="771.5" stroke="#000" stroke-width="2.2"/>
<line x1="270" y1="829.08" x2="279" y2="829.08" stroke="#000" stroke-width="2.2"/>
<line x1="270" y1="886.65" x2="279" y2="886.65" stroke="#000" stroke-width="2.2"/>
<line x1="270" y1="944.22" x2="279" y2="944.22" stroke="#000" stroke-width="2.2"/>
<line x1="1286.5" y1="617.97" x2="1295.5" y2="617.97" stroke="#000" stroke-width="2.2"/>
<line x1="1286.5" y1="694.73" x2="1295.5" y2="694.73" stroke="#000" stroke-width="2.2"/>
<line x1="1286.5" y1="771.5" x2="1295.5" y2="771.5" stroke="#000" stroke-width="2.2"/>
<line x1="1286.5" y1="848.27" x2="1295.5" y2="848.27" stroke="#000" stroke-width="2.2"/>
<line x1="1286.5" y1="925.03" x2="1295.5" y2="925.03" stroke="#000" stroke-width="2.2"/>
<line x1="363.23" y1="992.8" x2="363.23" y2="1001.8" stroke="#000" stroke-width="2.2"/>
<line x1="456.45" y1="992.8" x2="456.45" y2="1001.8" stroke="#000" stroke-width="2.2"/>
<line x1="549.68" y1="992.8" x2="549.68" y2="1001.8" stroke="#000" stroke-width="2.2"/>
<line x1="642.91" y1="992.8" x2="642.91" y2="1001.8" stroke="#000" stroke-width="2.2"/>
<line x1="736.14" y1="992.8" x2="736.14" y2="1001.8" stroke="#000" stroke-width="2.2"/>
<line x1="829.36" y1="992.8" x2="829.36" y2="1001.8" stroke="#000" stroke-width="2.2"/>
<line x1="922.59" y1="992.8" x2="922.59" y2="1001.8" stroke="#000" stroke-width="2.2"/>
<line x1="1015.82" y1="992.8" x2="1015.82" y2="1001.8" stroke="#000" stroke-width="2.2"/>
<line x1="1109.05" y1="992.8" x2="1109.05" y2="1001.8" stroke="#000" stroke-width="2.2"/>
<line x1="1202.27" y1="992.8" x2="1202.27" y2="1001.8" stroke="#000" stroke-width="2.2"/>
<rect x="270" y="541.2" width="1025.5" height="460.6" fill="none" stroke="#000" stroke-width="2.3"/>
<path d="M363.23,867.5 C378.77,850.88 425.38,795.58 456.45,767.8" fill="none" stroke="#ED7D31" stroke-width="4.9" stroke-dasharray="14.6 19.4" stroke-linecap="round"/>
<path d="M456.45,767.8 C487.53,740.02 518.61,702.93 549.68,700.8" fill="none" stroke="#ED7D31" stroke-width="4.9" stroke-dasharray="14.6 19.4" stroke-linecap="round"/>
<path d="M549.68,700.8 C580.76,698.67 611.83,748.35 642.91,755" fill="none" stroke="#ED7D31" stroke-width="4.9" stroke-dasharray="14.6 19.4" stroke-linecap="round"/>
<path d="M642.91,755 C673.98,761.65 705.06,751.2 736.14,740.7" fill="none" stroke="#ED7D31" stroke-width="4.9" stroke-dasharray="14.6 19.4" stroke-linecap="round"/>
<path d="M736.14,740.7 C767.21,730.2 798.29,715.98 829.36,692" fill="none" stroke="#ED7D31" stroke-width="4.9" stroke-dasharray="14.6 19.4" stroke-linecap="round"/>
<path d="M829.36,692 C860.44,668.02 891.52,603.38 922.59,596.8" fill="none" stroke="#ED7D31" stroke-width="4.9" stroke-dasharray="14.6 19.4" stroke-linecap="round"/>
<path d="M922.59,596.8 C953.67,590.22 984.74,639.23 1015.82,652.5" fill="none" stroke="#ED7D31" stroke-width="4.9" stroke-dasharray="14.6 19.4" stroke-linecap="round"/>
<path d="M1015.82,652.5 C1046.89,665.77 1077.97,675.23 1109.05,676.4" fill="none" stroke="#ED7D31" stroke-width="4.9" stroke-dasharray="14.6 19.4" stroke-linecap="round"/>
<path d="M1109.05,676.4 C1140.12,677.57 1186.73,662.32 1202.27,659.5" fill="none" stroke="#ED7D31" stroke-width="4.9" stroke-dasharray="14.6 19.4" stroke-linecap="round"/>
<circle cx="363.23" cy="867.5" r="9.5" fill="#ED7D31"/>
<circle cx="456.45" cy="767.8" r="9.5" fill="#ED7D31"/>
<circle cx="549.68" cy="700.8" r="9.5" fill="#ED7D31"/>
<circle cx="642.91" cy="755" r="9.5" fill="#ED7D31"/>
<circle cx="736.14" cy="740.7" r="9.5" fill="#ED7D31"/>
<circle cx="829.36" cy="692" r="9.5" fill="#ED7D31"/>
<circle cx="922.59" cy="596.8" r="9.5" fill="#ED7D31"/>
<circle cx="1015.82" cy="652.5" r="9.5" fill="#ED7D31"/>
<circle cx="1109.05" cy="676.4" r="9.5" fill="#ED7D31"/>
<circle cx="1202.27" cy="659.5" r="9.5" fill="#ED7D31"/>
<path d="M363.23,932 C378.77,927.43 425.38,916.9 456.45,904.6 C487.53,892.3 518.61,863.77 549.68,858.2 C580.76,852.63 611.83,868.83 642.91,871.2 C673.98,873.57 705.06,877.03 736.14,872.4 C767.21,867.77 798.29,865.07 829.36,843.4 C860.44,821.73 891.52,753.05 922.59,742.4 C953.67,731.75 984.74,774 1015.82,779.5 C1046.89,785 1077.97,778.98 1109.05,775.4 C1140.12,771.82 1186.73,760.9 1202.27,758" fill="none" stroke="#A5A5A5" stroke-width="4.9" stroke-linecap="round"/>
<path d="M363.23,923 L372.23,941 L354.23,941 Z" fill="#A5A5A5"/>
<path d="M456.45,895.6 L465.45,913.6 L447.45,913.6 Z" fill="#A5A5A5"/>
<path d="M549.68,849.2 L558.68,867.2 L540.68,867.2 Z" fill="#A5A5A5"/>
<path d="M642.91,862.2 L651.91,880.2 L633.91,880.2 Z" fill="#A5A5A5"/>
<path d="M736.14,863.4 L745.14,881.4 L727.14,881.4 Z" fill="#A5A5A5"/>
<path d="M829.36,834.4 L838.36,852.4 L820.36,852.4 Z" fill="#A5A5A5"/>
<path d="M922.59,733.4 L931.59,751.4 L913.59,751.4 Z" fill="#A5A5A5"/>
<path d="M1015.82,770.5 L1024.82,788.5 L1006.82,788.5 Z" fill="#A5A5A5"/>
<path d="M1109.05,766.4 L1118.05,784.4 L1100.05,784.4 Z" fill="#A5A5A5"/>
<path d="M1202.27,749 L1211.27,767 L1193.27,767 Z" fill="#A5A5A5"/>
<path d="M363.23,702.8 C378.77,691.3 425.38,637.52 456.45,633.8" fill="none" stroke="#4472C4" stroke-width="4.9" stroke-dasharray="0.01 9.55" stroke-dashoffset="7.15" stroke-linecap="round"/>
<path d="M456.45,633.8 C487.53,630.08 518.61,667.47 549.68,680.5" fill="none" stroke="#4472C4" stroke-width="4.9" stroke-dasharray="0.01 9.55" stroke-dashoffset="7.15" stroke-linecap="round"/>
<path d="M549.68,680.5 C580.76,693.53 611.83,710.22 642.91,712" fill="none" stroke="#4472C4" stroke-width="4.9" stroke-dasharray="0.01 9.55" stroke-dashoffset="7.15" stroke-linecap="round"/>
<path d="M642.91,712 C673.98,713.78 705.06,692.67 736.14,691.2" fill="none" stroke="#4472C4" stroke-width="4.9" stroke-dasharray="0.01 9.55" stroke-dashoffset="7.15" stroke-linecap="round"/>
<path d="M736.14,691.2 C767.21,689.73 798.29,691.37 829.36,703.2" fill="none" stroke="#4472C4" stroke-width="4.9" stroke-dasharray="0.01 9.55" stroke-dashoffset="7.15" stroke-linecap="round"/>
<path d="M829.36,703.2 C860.44,715.03 891.52,752.92 922.59,762.2" fill="none" stroke="#4472C4" stroke-width="4.9" stroke-dasharray="0.01 9.55" stroke-dashoffset="7.15" stroke-linecap="round"/>
<path d="M922.59,762.2 C953.67,771.48 984.74,755.88 1015.82,758.9" fill="none" stroke="#4472C4" stroke-width="4.9" stroke-dasharray="0.01 9.55" stroke-dashoffset="7.15" stroke-linecap="round"/>
<path d="M1015.82,758.9 C1046.89,761.92 1077.97,775.83 1109.05,780.3" fill="none" stroke="#4472C4" stroke-width="4.9" stroke-dasharray="0.01 9.55" stroke-dashoffset="7.15" stroke-linecap="round"/>
<path d="M1109.05,780.3 C1140.12,784.77 1186.73,784.8 1202.27,785.7" fill="none" stroke="#4472C4" stroke-width="4.9" stroke-dasharray="0.01 9.55" stroke-dashoffset="7.15" stroke-linecap="round"/>
<rect x="354.23" y="693.8" width="18" height="18" fill="#4472C4"/>
<rect x="447.45" y="624.8" width="18" height="18" fill="#4472C4"/>
<rect x="540.68" y="671.5" width="18" height="18" fill="#4472C4"/>
<rect x="633.91" y="703" width="18" height="18" fill="#4472C4"/>
<rect x="727.14" y="682.2" width="18" height="18" fill="#4472C4"/>
<rect x="820.36" y="694.2" width="18" height="18" fill="#4472C4"/>
<rect x="913.59" y="753.2" width="18" height="18" fill="#4472C4"/>
<rect x="1006.82" y="749.9" width="18" height="18" fill="#4472C4"/>
<rect x="1100.05" y="771.3" width="18" height="18" fill="#4472C4"/>
<rect x="1193.27" y="776.7" width="18" height="18" fill="#4472C4"/>
<text x="243" y="549.2" font-size="26.2" text-anchor="end" font-weight="normal" textLength="87.6" lengthAdjust="spacingAndGlyphs">400000</text>
<text x="243" y="606.78" font-size="26.2" text-anchor="end" font-weight="normal" textLength="87.6" lengthAdjust="spacingAndGlyphs">350000</text>
<text x="243" y="664.35" font-size="26.2" text-anchor="end" font-weight="normal" textLength="87.6" lengthAdjust="spacingAndGlyphs">300000</text>
<text x="243" y="721.92" font-size="26.2" text-anchor="end" font-weight="normal" textLength="87.6" lengthAdjust="spacingAndGlyphs">250000</text>
<text x="243" y="779.5" font-size="26.2" text-anchor="end" font-weight="normal" textLength="87.6" lengthAdjust="spacingAndGlyphs">200000</text>
<text x="243" y="837.08" font-size="26.2" text-anchor="end" font-weight="normal" textLength="87.6" lengthAdjust="spacingAndGlyphs">150000</text>
<text x="243" y="894.65" font-size="26.2" text-anchor="end" font-weight="normal" textLength="87.6" lengthAdjust="spacingAndGlyphs">100000</text>
<text x="243" y="952.22" font-size="26.2" text-anchor="end" font-weight="normal" textLength="73" lengthAdjust="spacingAndGlyphs">50000</text>
<text x="243" y="1009.8" font-size="26.2" text-anchor="end" font-weight="normal" textLength="14.6" lengthAdjust="spacingAndGlyphs">0</text>
<text x="1322" y="549.4" font-size="26.2" text-anchor="start" font-weight="normal" textLength="60" lengthAdjust="spacingAndGlyphs">3000</text>
<text x="1322" y="626.17" font-size="26.2" text-anchor="start" font-weight="normal" textLength="60" lengthAdjust="spacingAndGlyphs">2500</text>
<text x="1322" y="702.93" font-size="26.2" text-anchor="start" font-weight="normal" textLength="60" lengthAdjust="spacingAndGlyphs">2000</text>
<text x="1322" y="779.7" font-size="26.2" text-anchor="start" font-weight="normal" textLength="60" lengthAdjust="spacingAndGlyphs">1500</text>
<text x="1322" y="856.47" font-size="26.2" text-anchor="start" font-weight="normal" textLength="60" lengthAdjust="spacingAndGlyphs">1000</text>
<text x="1322" y="933.23" font-size="26.2" text-anchor="start" font-weight="normal" textLength="45" lengthAdjust="spacingAndGlyphs">500</text>
<text x="1322" y="1010" font-size="26.2" text-anchor="start" font-weight="normal" textLength="15" lengthAdjust="spacingAndGlyphs">0</text>
<text x="364" y="597.6" font-size="35.2" text-anchor="start" font-weight="normal" textLength="113.2" lengthAdjust="spacingAndGlyphs">Zambia</text>
<line x1="866.15" y1="883.4" x2="879.9" y2="883.4" stroke="#ED7D31" stroke-width="4.9" stroke-linecap="round"/>
<line x1="931.3" y1="883.4" x2="944.6" y2="883.4" stroke="#ED7D31" stroke-width="4.9" stroke-linecap="round"/>
<circle cx="905" cy="883.4" r="9.5" fill="#ED7D31"/>
<text x="953.5" y="892.3" font-size="25.9" text-anchor="start" font-weight="normal" textLength="236" lengthAdjust="spacingAndGlyphs">Production (tonnes)</text>
<line x1="865.7" y1="916.4" x2="944.6" y2="916.4" stroke="#A5A5A5" stroke-width="4.9" stroke-linecap="round"/>
<path d="M905,907.4 L914,925.4 L896,925.4 Z" fill="#A5A5A5"/>
<text x="953.5" y="925.3" font-size="25.9" text-anchor="start" font-weight="normal" textLength="233.2" lengthAdjust="spacingAndGlyphs">Harvested area (ha)</text>
<line x1="864.7" y1="949.4" x2="944.6" y2="949.4" stroke="#4472C4" stroke-width="4.9" stroke-linecap="round" stroke-dasharray="0.01 9.6"/>
<rect x="896" y="940.4" width="18" height="18" fill="#4472C4"/>
<text x="954.5" y="958.3" font-size="25.9" text-anchor="start" font-weight="normal" textLength="147.8" lengthAdjust="spacingAndGlyphs">Yield (kg/ha)</text>
<text transform="translate(59.7,869.8) rotate(-90)" x="0" y="0" font-size="29" textLength="260.4" lengthAdjust="spacingAndGlyphs">Production (tonnes)</text>
<text transform="translate(98.4,868) rotate(-90)" x="0" y="0" font-size="29" textLength="255.8" lengthAdjust="spacingAndGlyphs">Harvested area (ha)</text>
<text transform="translate(1449,880.4) rotate(-90)" x="0" y="0" font-size="29" textLength="253.6" lengthAdjust="spacingAndGlyphs">Grain yield (kg ha<tspan dy="-9" font-size="19">-1</tspan><tspan dy="9">)</tspan></text>
<text x="0" y="535" font-size="30.8" text-anchor="start" font-weight="bold">B</text>
<line x1="271.2" y1="1075.74" x2="1295" y2="1075.74" stroke="#eeeeee" stroke-width="2.2"/>
<line x1="271.2" y1="1079.13" x2="1295" y2="1079.13" stroke="#eeeeee" stroke-width="2.2"/>
<line x1="271.2" y1="1085.89" x2="1295" y2="1085.89" stroke="#eeeeee" stroke-width="2.2"/>
<line x1="271.2" y1="1092.65" x2="1295" y2="1092.65" stroke="#eeeeee" stroke-width="2.2"/>
<line x1="271.2" y1="1096.03" x2="1295" y2="1096.03" stroke="#eeeeee" stroke-width="2.2"/>
<line x1="271.2" y1="1106.18" x2="1295" y2="1106.18" stroke="#eeeeee" stroke-width="2.2"/>
<line x1="271.2" y1="1119.71" x2="1295" y2="1119.71" stroke="#eeeeee" stroke-width="2.2"/>
<line x1="271.2" y1="1126.47" x2="1295" y2="1126.47" stroke="#eeeeee" stroke-width="2.2"/>
<line x1="271.2" y1="1136.62" x2="1295" y2="1136.62" stroke="#eeeeee" stroke-width="2.2"/>
<line x1="271.2" y1="1146.76" x2="1295" y2="1146.76" stroke="#eeeeee" stroke-width="2.2"/>
<line x1="271.2" y1="1156.9" x2="1295" y2="1156.9" stroke="#eeeeee" stroke-width="2.2"/>
<line x1="271.2" y1="1160.29" x2="1295" y2="1160.29" stroke="#eeeeee" stroke-width="2.2"/>
<line x1="271.2" y1="1173.81" x2="1295" y2="1173.81" stroke="#eeeeee" stroke-width="2.2"/>
<line x1="271.2" y1="1177.19" x2="1295" y2="1177.19" stroke="#eeeeee" stroke-width="2.2"/>
<line x1="271.2" y1="1187.34" x2="1295" y2="1187.34" stroke="#eeeeee" stroke-width="2.2"/>
<line x1="271.2" y1="1197.48" x2="1295" y2="1197.48" stroke="#eeeeee" stroke-width="2.2"/>
<line x1="271.2" y1="1207.63" x2="1295" y2="1207.63" stroke="#eeeeee" stroke-width="2.2"/>
<line x1="271.2" y1="1214.39" x2="1295" y2="1214.39" stroke="#eeeeee" stroke-width="2.2"/>
<line x1="271.2" y1="1227.92" x2="1295" y2="1227.92" stroke="#eeeeee" stroke-width="2.2"/>
<line x1="271.2" y1="1238.07" x2="1295" y2="1238.07" stroke="#eeeeee" stroke-width="2.2"/>
<line x1="271.2" y1="1241.45" x2="1295" y2="1241.45" stroke="#eeeeee" stroke-width="2.2"/>
<line x1="271.2" y1="1248.21" x2="1295" y2="1248.21" stroke="#eeeeee" stroke-width="2.2"/>
<line x1="271.2" y1="1254.97" x2="1295" y2="1254.97" stroke="#eeeeee" stroke-width="2.2"/>
<line x1="271.2" y1="1258.36" x2="1295" y2="1258.36" stroke="#eeeeee" stroke-width="2.2"/>
<line x1="271.2" y1="1278.64" x2="1295" y2="1278.64" stroke="#eeeeee" stroke-width="2.2"/>
<line x1="271.2" y1="1282.03" x2="1295" y2="1282.03" stroke="#eeeeee" stroke-width="2.2"/>
<line x1="271.2" y1="1288.79" x2="1295" y2="1288.79" stroke="#eeeeee" stroke-width="2.2"/>
<line x1="271.2" y1="1295.55" x2="1295" y2="1295.55" stroke="#eeeeee" stroke-width="2.2"/>
<line x1="271.2" y1="1298.93" x2="1295" y2="1298.93" stroke="#eeeeee" stroke-width="2.2"/>
<line x1="271.2" y1="1309.08" x2="1295" y2="1309.08" stroke="#eeeeee" stroke-width="2.2"/>
<line x1="271.2" y1="1322.61" x2="1295" y2="1322.61" stroke="#eeeeee" stroke-width="2.2"/>
<line x1="271.2" y1="1329.37" x2="1295" y2="1329.37" stroke="#eeeeee" stroke-width="2.2"/>
<line x1="271.2" y1="1339.52" x2="1295" y2="1339.52" stroke="#eeeeee" stroke-width="2.2"/>
<line x1="271.2" y1="1349.66" x2="1295" y2="1349.66" stroke="#eeeeee" stroke-width="2.2"/>
<line x1="271.2" y1="1359.81" x2="1295" y2="1359.81" stroke="#eeeeee" stroke-width="2.2"/>
<line x1="271.2" y1="1363.19" x2="1295" y2="1363.19" stroke="#eeeeee" stroke-width="2.2"/>
<line x1="271.2" y1="1376.71" x2="1295" y2="1376.71" stroke="#eeeeee" stroke-width="2.2"/>
<line x1="271.2" y1="1380.1" x2="1295" y2="1380.1" stroke="#eeeeee" stroke-width="2.2"/>
<line x1="271.2" y1="1390.24" x2="1295" y2="1390.24" stroke="#eeeeee" stroke-width="2.2"/>
<line x1="271.2" y1="1400.38" x2="1295" y2="1400.38" stroke="#eeeeee" stroke-width="2.2"/>
<line x1="271.2" y1="1410.53" x2="1295" y2="1410.53" stroke="#eeeeee" stroke-width="2.2"/>
<line x1="271.2" y1="1417.29" x2="1295" y2="1417.29" stroke="#eeeeee" stroke-width="2.2"/>
<line x1="271.2" y1="1430.82" x2="1295" y2="1430.82" stroke="#eeeeee" stroke-width="2.2"/>
<line x1="271.2" y1="1440.97" x2="1295" y2="1440.97" stroke="#eeeeee" stroke-width="2.2"/>
<line x1="271.2" y1="1444.35" x2="1295" y2="1444.35" stroke="#eeeeee" stroke-width="2.2"/>
<line x1="271.2" y1="1451.11" x2="1295" y2="1451.11" stroke="#eeeeee" stroke-width="2.2"/>
<line x1="271.2" y1="1457.87" x2="1295" y2="1457.87" stroke="#eeeeee" stroke-width="2.2"/>
<line x1="271.2" y1="1461.26" x2="1295" y2="1461.26" stroke="#eeeeee" stroke-width="2.2"/>
<line x1="271.2" y1="1065.6" x2="1295" y2="1065.6" stroke="#d9d9d9" stroke-width="2.5"/>
<line x1="271.2" y1="1116.32" x2="1295" y2="1116.32" stroke="#d9d9d9" stroke-width="2.5"/>
<line x1="271.2" y1="1133.23" x2="1295" y2="1133.23" stroke="#d9d9d9" stroke-width="2.5"/>
<line x1="271.2" y1="1167.05" x2="1295" y2="1167.05" stroke="#d9d9d9" stroke-width="2.5"/>
<line x1="271.2" y1="1200.87" x2="1295" y2="1200.87" stroke="#d9d9d9" stroke-width="2.5"/>
<line x1="271.2" y1="1217.78" x2="1295" y2="1217.78" stroke="#d9d9d9" stroke-width="2.5"/>
<line x1="271.2" y1="1268.5" x2="1295" y2="1268.5" stroke="#d9d9d9" stroke-width="2.5"/>
<line x1="271.2" y1="1319.22" x2="1295" y2="1319.22" stroke="#d9d9d9" stroke-width="2.5"/>
<line x1="271.2" y1="1336.13" x2="1295" y2="1336.13" stroke="#d9d9d9" stroke-width="2.5"/>
<line x1="271.2" y1="1369.95" x2="1295" y2="1369.95" stroke="#d9d9d9" stroke-width="2.5"/>
<line x1="271.2" y1="1403.77" x2="1295" y2="1403.77" stroke="#d9d9d9" stroke-width="2.5"/>
<line x1="271.2" y1="1420.68" x2="1295" y2="1420.68" stroke="#d9d9d9" stroke-width="2.5"/>
<line x1="271.2" y1="1471.4" x2="1295" y2="1471.4" stroke="#d9d9d9" stroke-width="2.5"/>
<line x1="305.33" y1="1065.6" x2="305.33" y2="1471.4" stroke="#f3f3f3" stroke-width="2.6"/>
<line x1="339.45" y1="1065.6" x2="339.45" y2="1471.4" stroke="#f3f3f3" stroke-width="2.6"/>
<line x1="373.58" y1="1065.6" x2="373.58" y2="1471.4" stroke="#f3f3f3" stroke-width="2.6"/>
<line x1="407.71" y1="1065.6" x2="407.71" y2="1471.4" stroke="#f3f3f3" stroke-width="2.6"/>
<line x1="475.96" y1="1065.6" x2="475.96" y2="1471.4" stroke="#f3f3f3" stroke-width="2.6"/>
<line x1="510.09" y1="1065.6" x2="510.09" y2="1471.4" stroke="#f3f3f3" stroke-width="2.6"/>
<line x1="544.21" y1="1065.6" x2="544.21" y2="1471.4" stroke="#f3f3f3" stroke-width="2.6"/>
<line x1="578.34" y1="1065.6" x2="578.34" y2="1471.4" stroke="#f3f3f3" stroke-width="2.6"/>
<line x1="646.59" y1="1065.6" x2="646.59" y2="1471.4" stroke="#f3f3f3" stroke-width="2.6"/>
<line x1="680.72" y1="1065.6" x2="680.72" y2="1471.4" stroke="#f3f3f3" stroke-width="2.6"/>
<line x1="714.85" y1="1065.6" x2="714.85" y2="1471.4" stroke="#f3f3f3" stroke-width="2.6"/>
<line x1="748.97" y1="1065.6" x2="748.97" y2="1471.4" stroke="#f3f3f3" stroke-width="2.6"/>
<line x1="817.23" y1="1065.6" x2="817.23" y2="1471.4" stroke="#f3f3f3" stroke-width="2.6"/>
<line x1="851.35" y1="1065.6" x2="851.35" y2="1471.4" stroke="#f3f3f3" stroke-width="2.6"/>
<line x1="885.48" y1="1065.6" x2="885.48" y2="1471.4" stroke="#f3f3f3" stroke-width="2.6"/>
<line x1="919.61" y1="1065.6" x2="919.61" y2="1471.4" stroke="#f3f3f3" stroke-width="2.6"/>
<line x1="987.86" y1="1065.6" x2="987.86" y2="1471.4" stroke="#f3f3f3" stroke-width="2.6"/>
<line x1="1021.99" y1="1065.6" x2="1021.99" y2="1471.4" stroke="#f3f3f3" stroke-width="2.6"/>
<line x1="1056.11" y1="1065.6" x2="1056.11" y2="1471.4" stroke="#f3f3f3" stroke-width="2.6"/>
<line x1="1090.24" y1="1065.6" x2="1090.24" y2="1471.4" stroke="#f3f3f3" stroke-width="2.6"/>
<line x1="1158.49" y1="1065.6" x2="1158.49" y2="1471.4" stroke="#f3f3f3" stroke-width="2.6"/>
<line x1="1192.62" y1="1065.6" x2="1192.62" y2="1471.4" stroke="#f3f3f3" stroke-width="2.6"/>
<line x1="1226.75" y1="1065.6" x2="1226.75" y2="1471.4" stroke="#f3f3f3" stroke-width="2.6"/>
<line x1="1260.87" y1="1065.6" x2="1260.87" y2="1471.4" stroke="#f3f3f3" stroke-width="2.6"/>
<line x1="271.2" y1="1065.6" x2="271.2" y2="1471.4" stroke="#d9d9d9" stroke-width="2.2"/>
<line x1="441.83" y1="1065.6" x2="441.83" y2="1471.4" stroke="#d9d9d9" stroke-width="2.2"/>
<line x1="612.47" y1="1065.6" x2="612.47" y2="1471.4" stroke="#d9d9d9" stroke-width="2.2"/>
<line x1="783.1" y1="1065.6" x2="783.1" y2="1471.4" stroke="#d9d9d9" stroke-width="2.2"/>
<line x1="953.73" y1="1065.6" x2="953.73" y2="1471.4" stroke="#d9d9d9" stroke-width="2.2"/>
<line x1="1124.37" y1="1065.6" x2="1124.37" y2="1471.4" stroke="#d9d9d9" stroke-width="2.2"/>
<line x1="1295" y1="1065.6" x2="1295" y2="1471.4" stroke="#d9d9d9" stroke-width="2.2"/>
<line x1="271.2" y1="1116.32" x2="280.2" y2="1116.32" stroke="#000" stroke-width="2.2"/>
<line x1="271.2" y1="1167.05" x2="280.2" y2="1167.05" stroke="#000" stroke-width="2.2"/>
<line x1="271.2" y1="1217.78" x2="280.2" y2="1217.78" stroke="#000" stroke-width="2.2"/>
<line x1="271.2" y1="1268.5" x2="280.2" y2="1268.5" stroke="#000" stroke-width="2.2"/>
<line x1="271.2" y1="1319.22" x2="280.2" y2="1319.22" stroke="#000" stroke-width="2.2"/>
<line x1="271.2" y1="1369.95" x2="280.2" y2="1369.95" stroke="#000" stroke-width="2.2"/>
<line x1="271.2" y1="1420.68" x2="280.2" y2="1420.68" stroke="#000" stroke-width="2.2"/>
<line x1="1286" y1="1133.23" x2="1295" y2="1133.23" stroke="#000" stroke-width="2.2"/>
<line x1="1286" y1="1200.87" x2="1295" y2="1200.87" stroke="#000" stroke-width="2.2"/>
<line x1="1286" y1="1268.5" x2="1295" y2="1268.5" stroke="#000" stroke-width="2.2"/>
<line x1="1286" y1="1336.13" x2="1295" y2="1336.13" stroke="#000" stroke-width="2.2"/>
<line x1="1286" y1="1403.77" x2="1295" y2="1403.77" stroke="#000" stroke-width="2.2"/>
<line x1="441.83" y1="1462.4" x2="441.83" y2="1471.4" stroke="#000" stroke-width="2.2"/>
<line x1="612.47" y1="1462.4" x2="612.47" y2="1471.4" stroke="#000" stroke-width="2.2"/>
<line x1="783.1" y1="1462.4" x2="783.1" y2="1471.4" stroke="#000" stroke-width="2.2"/>
<line x1="953.73" y1="1462.4" x2="953.73" y2="1471.4" stroke="#000" stroke-width="2.2"/>
<line x1="1124.37" y1="1462.4" x2="1124.37" y2="1471.4" stroke="#000" stroke-width="2.2"/>
<rect x="271.2" y="1065.6" width="1023.8" height="405.8" fill="none" stroke="#000" stroke-width="2.3"/>
<path d="M783.1,1424 C797.32,1423.52 839.98,1422.47 868.42,1421.1" fill="none" stroke="#ED7D31" stroke-width="4.9" stroke-dasharray="14.6 19.4" stroke-linecap="round"/>
<path d="M868.42,1421.1 C896.86,1419.73 925.29,1416.68 953.73,1415.8" fill="none" stroke="#ED7D31" stroke-width="4.9" stroke-dasharray="14.6 19.4" stroke-linecap="round"/>
<path d="M953.73,1415.8 C982.17,1414.92 1010.61,1419.17 1039.05,1415.8" fill="none" stroke="#ED7D31" stroke-width="4.9" stroke-dasharray="14.6 19.4" stroke-linecap="round"/>
<path d="M1039.05,1415.8 C1067.49,1412.43 1110.15,1398.97 1124.37,1395.6" fill="none" stroke="#ED7D31" stroke-width="4.9" stroke-dasharray="14.6 19.4" stroke-linecap="round"/>
<circle cx="783.1" cy="1424" r="9.5" fill="#ED7D31"/>
<circle cx="868.42" cy="1421.1" r="9.5" fill="#ED7D31"/>
<circle cx="953.73" cy="1415.8" r="9.5" fill="#ED7D31"/>
<circle cx="1039.05" cy="1415.8" r="9.5" fill="#ED7D31"/>
<circle cx="1124.37" cy="1395.6" r="9.5" fill="#ED7D31"/>
<path d="M783.1,1433.5 C797.32,1433.5 839.98,1434.05 868.42,1433.5 C896.86,1432.95 925.29,1430.33 953.73,1430.2 C982.17,1430.07 1010.61,1433.4 1039.05,1432.7 C1067.49,1432 1110.15,1427.12 1124.37,1426" fill="none" stroke="#A5A5A5" stroke-width="4.9" stroke-linecap="round"/>
<path d="M783.1,1424.5 L792.1,1442.5 L774.1,1442.5 Z" fill="#A5A5A5"/>
<path d="M868.42,1424.5 L877.42,1442.5 L859.42,1442.5 Z" fill="#A5A5A5"/>
<path d="M953.73,1421.2 L962.73,1439.2 L944.73,1439.2 Z" fill="#A5A5A5"/>
<path d="M1039.05,1423.7 L1048.05,1441.7 L1030.05,1441.7 Z" fill="#A5A5A5"/>
<path d="M1124.37,1417 L1133.37,1435 L1115.37,1435 Z" fill="#A5A5A5"/>
<path d="M783.1,1304.4 C797.32,1302.55 839.98,1295.83 868.42,1293.3" fill="none" stroke="#4472C4" stroke-width="4.9" stroke-dasharray="0.01 9.55" stroke-dashoffset="7.15" stroke-linecap="round"/>
<path d="M868.42,1293.3 C896.86,1290.77 925.29,1291.27 953.73,1289.2" fill="none" stroke="#4472C4" stroke-width="4.9" stroke-dasharray="0.01 9.55" stroke-dashoffset="7.15" stroke-linecap="round"/>
<path d="M953.73,1289.2 C982.17,1287.13 1010.61,1288.12 1039.05,1280.9" fill="none" stroke="#4472C4" stroke-width="4.9" stroke-dasharray="0.01 9.55" stroke-dashoffset="7.15" stroke-linecap="round"/>
<path d="M1039.05,1280.9 C1067.49,1273.68 1110.15,1251.73 1124.37,1245.9" fill="none" stroke="#4472C4" stroke-width="4.9" stroke-dasharray="0.01 9.55" stroke-dashoffset="7.15" stroke-linecap="round"/>
<rect x="774.1" y="1295.4" width="18" height="18" fill="#4472C4"/>
<rect x="859.42" y="1284.3" width="18" height="18" fill="#4472C4"/>
<rect x="944.73" y="1280.2" width="18" height="18" fill="#4472C4"/>
<rect x="1030.05" y="1271.9" width="18" height="18" fill="#4472C4"/>
<rect x="1115.37" y="1236.9" width="18" height="18" fill="#4472C4"/>
<text x="244.1" y="1073.6" font-size="26.2" text-anchor="end" font-weight="normal" textLength="87.6" lengthAdjust="spacingAndGlyphs">400000</text>
<text x="244.1" y="1124.32" font-size="26.2" text-anchor="end" font-weight="normal" textLength="87.6" lengthAdjust="spacingAndGlyphs">350000</text>
<text x="244.1" y="1175.05" font-size="26.2" text-anchor="end" font-weight="normal" textLength="87.6" lengthAdjust="spacingAndGlyphs">300000</text>
<text x="244.1" y="1225.78" font-size="26.2" text-anchor="end" font-weight="normal" textLength="87.6" lengthAdjust="spacingAndGlyphs">250000</text>
<text x="244.1" y="1276.5" font-size="26.2" text-anchor="end" font-weight="normal" textLength="87.6" lengthAdjust="spacingAndGlyphs">200000</text>
<text x="244.1" y="1327.22" font-size="26.2" text-anchor="end" font-weight="normal" textLength="87.6" lengthAdjust="spacingAndGlyphs">150000</text>
<text x="244.1" y="1377.95" font-size="26.2" text-anchor="end" font-weight="normal" textLength="87.6" lengthAdjust="spacingAndGlyphs">100000</text>
<text x="244.1" y="1428.68" font-size="26.2" text-anchor="end" font-weight="normal" textLength="73" lengthAdjust="spacingAndGlyphs">50000</text>
<text x="244.1" y="1479.4" font-size="26.2" text-anchor="end" font-weight="normal" textLength="14.6" lengthAdjust="spacingAndGlyphs">0</text>
<text x="1321.4" y="1073.8" font-size="26.2" text-anchor="start" font-weight="normal" textLength="60" lengthAdjust="spacingAndGlyphs">3000</text>
<text x="1321.4" y="1141.43" font-size="26.2" text-anchor="start" font-weight="normal" textLength="60" lengthAdjust="spacingAndGlyphs">2500</text>
<text x="1321.4" y="1209.07" font-size="26.2" text-anchor="start" font-weight="normal" textLength="60" lengthAdjust="spacingAndGlyphs">2000</text>
<text x="1321.4" y="1276.7" font-size="26.2" text-anchor="start" font-weight="normal" textLength="60" lengthAdjust="spacingAndGlyphs">1500</text>
<text x="1321.4" y="1344.33" font-size="26.2" text-anchor="start" font-weight="normal" textLength="60" lengthAdjust="spacingAndGlyphs">1000</text>
<text x="1321.4" y="1411.97" font-size="26.2" text-anchor="start" font-weight="normal" textLength="45" lengthAdjust="spacingAndGlyphs">500</text>
<text x="1321.4" y="1479.6" font-size="26.2" text-anchor="start" font-weight="normal" textLength="15" lengthAdjust="spacingAndGlyphs">0</text>
<text x="346" y="1120.4" font-size="35.2" text-anchor="start" font-weight="normal" textLength="206.4" lengthAdjust="spacingAndGlyphs">Mozambique</text>
<line x1="361.05" y1="1330.8" x2="374.8" y2="1330.8" stroke="#ED7D31" stroke-width="4.9" stroke-linecap="round"/>
<line x1="427.9" y1="1330.8" x2="441.2" y2="1330.8" stroke="#ED7D31" stroke-width="4.9" stroke-linecap="round"/>
<circle cx="400.9" cy="1330.8" r="9.5" fill="#ED7D31"/>
<text x="450" y="1339.7" font-size="25.9" text-anchor="start" font-weight="normal" textLength="235.9" lengthAdjust="spacingAndGlyphs">Production (tonnes)</text>
<line x1="360.6" y1="1372" x2="441.2" y2="1372" stroke="#A5A5A5" stroke-width="4.9" stroke-linecap="round"/>
<path d="M400.9,1363 L409.9,1381 L391.9,1381 Z" fill="#A5A5A5"/>
<text x="450" y="1380.9" font-size="25.9" text-anchor="start" font-weight="normal" textLength="231.4" lengthAdjust="spacingAndGlyphs">Harvested area (ha)</text>
<line x1="359.6" y1="1413.2" x2="441.2" y2="1413.2" stroke="#4472C4" stroke-width="4.9" stroke-linecap="round" stroke-dasharray="0.01 9.6"/>
<rect x="391.9" y="1404.2" width="18" height="18" fill="#4472C4"/>
<text x="451" y="1422.1" font-size="25.9" text-anchor="start" font-weight="normal" textLength="147.8" lengthAdjust="spacingAndGlyphs">Yield (kg/ha)</text>
<text transform="translate(59.1,1417.8) rotate(-90)" x="0" y="0" font-size="29" textLength="259.8" lengthAdjust="spacingAndGlyphs">Production (tonnes)</text>
<text transform="translate(98.4,1416) rotate(-90)" x="0" y="0" font-size="29" textLength="255" lengthAdjust="spacingAndGlyphs">Harvested area (ha)</text>
<text transform="translate(1443,1400.4) rotate(-90)" x="0" y="0" font-size="29" textLength="252.8" lengthAdjust="spacingAndGlyphs">Grain yield (kg ha<tspan dy="-9" font-size="19">-1</tspan><tspan dy="9">)</tspan></text>
<text x="-0.6" y="1051.8" font-size="30.8" text-anchor="start" font-weight="bold">C</text>
<text x="271.2" y="1517.6" font-size="26.2" text-anchor="middle" font-weight="normal" textLength="58.8" lengthAdjust="spacingAndGlyphs">2010</text>
<text x="441.83" y="1517.6" font-size="26.2" text-anchor="middle" font-weight="normal" textLength="58.8" lengthAdjust="spacingAndGlyphs">2012</text>
<text x="612.47" y="1517.6" font-size="26.2" text-anchor="middle" font-weight="normal" textLength="58.8" lengthAdjust="spacingAndGlyphs">2014</text>
<text x="783.1" y="1517.6" font-size="26.2" text-anchor="middle" font-weight="normal" textLength="58.8" lengthAdjust="spacingAndGlyphs">2016</text>
<text x="953.73" y="1517.6" font-size="26.2" text-anchor="middle" font-weight="normal" textLength="58.8" lengthAdjust="spacingAndGlyphs">2018</text>
<text x="1124.37" y="1517.6" font-size="26.2" text-anchor="middle" font-weight="normal" textLength="58.8" lengthAdjust="spacingAndGlyphs">2020</text>
<text x="1295" y="1517.6" font-size="26.2" text-anchor="middle" font-weight="normal" textLength="58.8" lengthAdjust="spacingAndGlyphs">2022</text>
<text x="723" y="1586" font-size="29" text-anchor="start" font-weight="normal" textLength="71.4" lengthAdjust="spacingAndGlyphs">Years</text>
</svg>
</body></html>
